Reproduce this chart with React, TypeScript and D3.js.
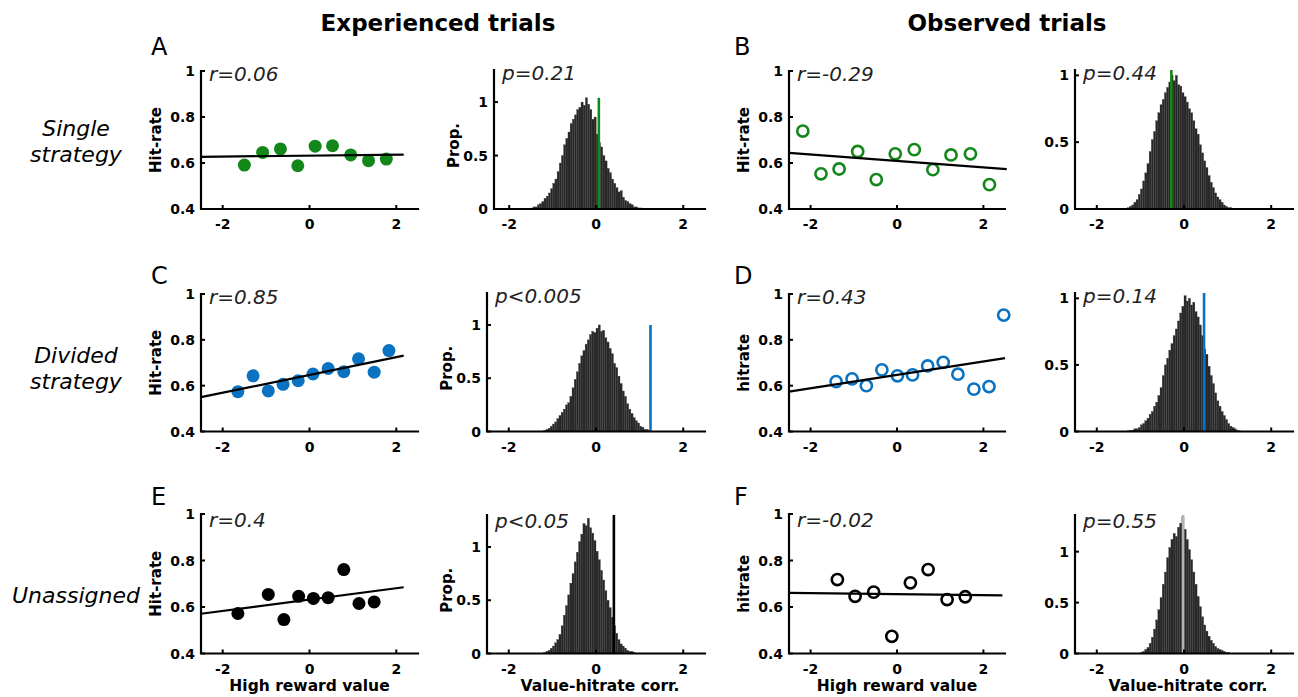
import React from 'react';
import * as d3 from 'd3';

const FONT = 'DejaVu Sans, Verdana, sans-serif';
const GREEN = '#14871b';
const BLUE = '#0a72c0';

const valueTicks = [-2, 0, 2];
const hitTicks = [0.4, 0.6, 0.8, 1];
const propTicks = [0, 0.5, 1];

// scatter panels: high reward value vs hit-rate
const aX = [-1.50, -1.08, -0.67, -0.27, 0.13, 0.53, 0.95, 1.36, 1.77];
const aY = [0.591, 0.646, 0.661, 0.588, 0.673, 0.675, 0.635, 0.610, 0.617];
const bX = [-2.18, -1.76, -1.34, -0.91, -0.48, -0.04, 0.40, 0.83, 1.25, 1.70, 2.14];
const bY = [0.739, 0.553, 0.574, 0.650, 0.528, 0.640, 0.658, 0.571, 0.635, 0.640, 0.506];
const cX = [-1.65, -1.30, -0.95, -0.61, -0.26, 0.08, 0.43, 0.79, 1.13, 1.49, 1.83];
const cY = [0.574, 0.643, 0.577, 0.606, 0.622, 0.651, 0.675, 0.661, 0.717, 0.659, 0.753];
const dX = [-1.41, -1.04, -0.71, -0.35, 0.01, 0.36, 0.71, 1.07, 1.41, 1.78, 2.13, 2.47];
const dY = [0.618, 0.630, 0.600, 0.669, 0.643, 0.647, 0.686, 0.702, 0.650, 0.585, 0.596, 0.908];
const eX = [-1.65, -0.95, -0.59, -0.25, 0.09, 0.43, 0.79, 1.14, 1.49];
const eY = [0.572, 0.654, 0.546, 0.646, 0.637, 0.640, 0.761, 0.615, 0.622];
const fX = [-1.38, -0.97, -0.54, -0.12, 0.31, 0.72, 1.16, 1.58];
const fY = [0.718, 0.646, 0.664, 0.474, 0.704, 0.761, 0.632, 0.644];

// least-squares fits: [intercept, slope, x from, x to]
const fitA = [0.632, 0.002, -2.5, 2.17];
const fitB = [0.609, -0.0139, -2.5, 2.54];
const fitC = [0.647, 0.0388, -2.5, 2.17];
const fitD = [0.647, 0.0292, -2.5, 2.5];
const fitE = [0.632, 0.0244, -2.5, 2.17];
const fitF = [0.655, -0.0022, -2.5, 2.44];

// shuffled correlation histograms (bin width 0.05)
const binWidth = 0.05;
const histAStart = -1.5;
const histA = [0.01, 0.02, 0.02, 0.04, 0.05, 0.07, 0.10, 0.12, 0.15, 0.19, 0.24, 0.28, 0.35, 0.43, 0.50, 0.60, 0.66, 0.72, 0.80, 0.84, 0.88, 0.93, 0.95, 1.00, 0.97, 1.04, 0.98, 0.93, 0.84, 0.86, 0.70, 0.62, 0.58, 0.50, 0.45, 0.38, 0.34, 0.28, 0.24, 0.20, 0.16, 0.17, 0.11, 0.08, 0.07, 0.05, 0.04, 0.02, 0.02, 0.01, 0.01];
const histBStart = -1.3;
const histB = [0.01, 0.02, 0.03, 0.05, 0.07, 0.11, 0.15, 0.21, 0.27, 0.34, 0.43, 0.52, 0.58, 0.66, 0.72, 0.78, 0.82, 0.87, 0.91, 0.95, 1.00, 0.96, 1.00, 0.93, 0.92, 0.87, 0.84, 0.80, 0.75, 0.72, 0.66, 0.60, 0.56, 0.48, 0.42, 0.36, 0.31, 0.25, 0.20, 0.16, 0.12, 0.09, 0.07, 0.05, 0.03, 0.02, 0.01, 0.01, 0.005, 0.005];
const histCStart = -1.2;
const histC = [0.01, 0.02, 0.03, 0.05, 0.07, 0.09, 0.12, 0.15, 0.18, 0.21, 0.25, 0.27, 0.33, 0.41, 0.49, 0.56, 0.64, 0.71, 0.76, 0.82, 0.86, 0.91, 0.94, 0.93, 0.97, 1.00, 0.94, 0.95, 0.88, 0.84, 0.78, 0.73, 0.64, 0.60, 0.52, 0.45, 0.38, 0.33, 0.26, 0.21, 0.17, 0.13, 0.10, 0.08, 0.05, 0.04, 0.02, 0.02, 0.01];
const histDStart = -1.3;
const histD = [0.005, 0.01, 0.01, 0.02, 0.02, 0.03, 0.05, 0.06, 0.08, 0.10, 0.13, 0.15, 0.19, 0.22, 0.27, 0.33, 0.42, 0.50, 0.55, 0.61, 0.66, 0.72, 0.77, 0.83, 0.89, 0.94, 1.02, 0.98, 1.00, 0.95, 0.97, 0.90, 0.86, 0.80, 0.72, 0.62, 0.58, 0.49, 0.42, 0.36, 0.29, 0.23, 0.19, 0.15, 0.12, 0.09, 0.06, 0.04, 0.03, 0.02, 0.01, 0.005];
const histEStart = -1.2;
const histE = [0.01, 0.02, 0.03, 0.05, 0.07, 0.10, 0.13, 0.18, 0.26, 0.36, 0.45, 0.55, 0.66, 0.75, 0.86, 0.95, 1.05, 1.12, 1.22, 1.20, 1.27, 1.18, 1.13, 1.06, 0.96, 0.88, 0.78, 0.69, 0.59, 0.50, 0.43, 0.34, 0.26, 0.19, 0.13, 0.09, 0.07, 0.05, 0.03, 0.02, 0.02, 0.01];
const histFStart = -1.0;
const histF = [0.01, 0.02, 0.04, 0.06, 0.10, 0.16, 0.24, 0.33, 0.43, 0.55, 0.68, 0.80, 0.94, 1.04, 1.12, 1.18, 1.15, 1.24, 1.28, 1.34, 1.22, 1.12, 1.02, 0.92, 0.80, 0.68, 0.56, 0.46, 0.36, 0.28, 0.22, 0.17, 0.13, 0.10, 0.07, 0.05, 0.04, 0.03, 0.02, 0.01, 0.01];

// observed (z-transformed) correlations and text
const observed = [0.06, -0.29, 1.25, 0.46, 0.41, -0.02];
const rLabels = ['r=0.06', 'r=-0.29', 'r=0.85', 'r=0.43', 'r=0.4', 'r=-0.02'];
const pLabels = ['p=0.21', 'p=0.44', 'p<0.005', 'p=0.14', 'p<0.05', 'p=0.55'];

function Axes({ left, right, top, bottom, x, y, yTicks, yFmt }: any) {
  return (
    <g>
      {valueTicks.map(t => (
        <g key={'x' + t}>
          <line x1={x(t)} x2={x(t)} y1={bottom} y2={bottom - 4} stroke="#000" strokeWidth={2} />
          <text x={x(t)} y={bottom + 20} textAnchor="middle" fontSize={14} fontWeight="bold" fontFamily={FONT}>{t}</text>
        </g>
      ))}
      {yTicks.map((t: number) => (
        <g key={'y' + t}>
          <line x1={left} x2={left + 4} y1={y(t)} y2={y(t)} stroke="#000" strokeWidth={2} />
          <text x={left - 6} y={y(t)} dy="0.36em" textAnchor="end" fontSize={14} fontWeight="bold" fontFamily={FONT}>{yFmt(t)}</text>
        </g>
      ))}
      <path d={`M${left},${top}V${bottom}H${right}`} fill="none" stroke="#000" strokeWidth={2.2} strokeLinecap="square" />
    </g>
  );
}

function Scatter(props: any) {
  const { left, right, top, bottom, xs, ys, fit, color, open, ylabel, xlabel, ann, annDy } = props;
  const x = d3.scaleLinear().domain([-2.5, 2.5]).range([left, right]);
  const y = d3.scaleLinear().domain([0.4, 1]).range([bottom, top]);
  const fitLine = d3.line<number>().x(v => x(v)).y(v => y(fit[0] + fit[1] * v))([fit[2], fit[3]]);
  return (
    <g>
      {xs.map((v: number, i: number) => (
        <circle key={i} cx={x(v)} cy={y(ys[i])} r={open ? 5.6 : 6.5}
          fill={open ? 'none' : color} stroke={color} strokeWidth={open ? 2.6 : 0} />
      ))}
      <path d={fitLine || ''} stroke="#000" strokeWidth={2.2} fill="none" />
      <Axes left={left} right={right} top={top} bottom={bottom} x={x} y={y} yTicks={hitTicks}
        yFmt={(t: number) => (t === 1 ? '1' : t.toFixed(1))} />
      <text x={left + 8} y={top + annDy} fontSize={20} fontStyle="italic" fontFamily={FONT} fill="#222">{ann}</text>
      <text transform={`translate(${left - 45},${(top + bottom) / 2}) rotate(-90)`} dy="0.36em" textAnchor="middle"
        fontSize={15} fontWeight="bold" fontFamily={FONT}>{ylabel}</text>
      {xlabel && <text x={(left + right) / 2} y={bottom + 37} textAnchor="middle" fontSize={15.5} fontWeight="bold" fontFamily={FONT}>{xlabel}</text>}
    </g>
  );
}

function Hist(props: any) {
  const { left, right, top, bottom, xmin, ymax, start, heights, obs, obsTop, obsColor, ylabel, xlabel, ann, annDy } = props;
  const x = d3.scaleLinear().domain([xmin, 2.5]).range([left, right]);
  const y = d3.scaleLinear().domain([0, ymax]).range([bottom, top]);
  return (
    <g>
      {heights.map((h: number, i: number) => {
        const x0 = x(start + i * binWidth);
        const x1 = x(start + (i + 1) * binWidth);
        return <rect key={i} x={x0} width={x1 - x0} y={y(h)} height={bottom - y(h)} fill="#282828" stroke="#3c3c3c" strokeWidth={0.3} />;
      })}
      <line x1={x(obs)} x2={x(obs)} y1={bottom} y2={y(obsTop)} stroke={obsColor} strokeWidth={2.6} />
      <Axes left={left} right={right} top={top} bottom={bottom} x={x} y={y} yTicks={propTicks}
        yFmt={(t: number) => String(t)} />
      <text x={left + 8} y={top + annDy} fontSize={20} fontStyle="italic" fontFamily={FONT} fill="#222">{ann}</text>
      {ylabel && <text transform={`translate(${left - 40},${(top + bottom) / 2 + 6}) rotate(-90)`} dy="0.36em" textAnchor="middle"
        fontSize={15} fontWeight="bold" fontFamily={FONT}>{ylabel}</text>}
      {xlabel && <text x={(left + right) / 2 + 4} y={bottom + 37} textAnchor="middle" fontSize={15.5} fontWeight="bold" fontFamily={FONT}>{xlabel}</text>}
    </g>
  );
}

export default function App() {
  const rows = [
    { sTop: 71, hTop: 70, bottom: 209, annDy: 10 },
    { sTop: 294, hTop: 293, bottom: 431.5, annDy: 10 },
    { sTop: 514, hTop: 515, bottom: 653.5, annDy: 13 },
  ];
  const c1 = [201, 418], c2 = [487, 705], c3 = [789, 1005], c4 = [1075, 1293];
  const letter = (t: string, x: number, y: number) => (
    <text x={x} y={y} fontSize={24} fontFamily={FONT}>{t}</text>
  );
  const rowLabel = (lines: string[], ys: number[]) => lines.map((l, i) => (
    <text key={l} x={76} y={ys[i]} textAnchor="middle" fontSize={22} fontStyle="italic" fontFamily={FONT}>{l}</text>
  ));
  const sc = [
    [aX, aY, fitA, GREEN, false, 'Hit-rate'], [bX, bY, fitB, GREEN, true, 'Hit-rate'],
    [cX, cY, fitC, BLUE, false, 'Hit-rate'], [dX, dY, fitD, BLUE, true, 'hitrate'],
    [eX, eY, fitE, '#000', false, 'Hit-rate'], [fX, fY, fitF, '#000', true, 'hitrate'],
  ];
  const hs = [
    [histAStart, histA, -2.35, 1.3, 1.04, GREEN], [histBStart, histB, -2.5, 1.04, 1.04, GREEN],
    [histCStart, histC, -2.5, 1.3, 1.0, BLUE], [histDStart, histD, -2.5, 1.04, 1.04, BLUE],
    [histEStart, histE, -2.5, 1.3, 1.3, '#000'], [histFStart, histF, -2.5, 1.36, 1.36, '#b3b3b3'],
  ];
  return (
    <svg width={1298} height={697} style={{ position: 'absolute', left: 0, top: 0, background: '#fff' }}>
      <text x={438} y={31} textAnchor="middle" fontSize={23} fontWeight="bold" fontFamily={FONT}>Experienced trials</text>
      <text x={1007} y={31} textAnchor="middle" fontSize={23} fontWeight="bold" fontFamily={FONT}>Observed trials</text>
      {letter('A', 151, 55)}{letter('B', 734, 55)}
      {letter('C', 151, 284)}{letter('D', 734, 284)}
      {letter('E', 151, 505)}{letter('F', 734, 505)}
      {rowLabel(['Single', 'strategy'], [136, 162])}
      {rowLabel(['Divided', 'strategy'], [363, 389])}
      {rowLabel(['Unassigned'], [603])}
      {sc.map((s: any, i) => {
        const row = rows[Math.floor(i / 2)];
        const col = i % 2 === 0 ? c1 : c3;
        return <Scatter key={'s' + i} left={col[0]} right={col[1]} top={row.sTop} bottom={row.bottom}
          xs={s[0]} ys={s[1]} fit={s[2]} color={s[3]} open={s[4]} ylabel={s[5]}
          xlabel={i >= 4 ? 'High reward value' : null} ann={rLabels[i]} annDy={row.annDy} />;
      })}
      {hs.map((h: any, i) => {
        const row = rows[Math.floor(i / 2)];
        const col = i % 2 === 0 ? c2 : c4;
        return <Hist key={'h' + i} left={i === 0 ? 494 : col[0]} right={col[1]} top={row.hTop} bottom={row.bottom}
          start={h[0]} heights={h[1]} xmin={h[2]} ymax={h[3]} obs={observed[i]} obsTop={h[4]} obsColor={h[5]}
          ylabel={i % 2 === 0 ? 'Prop.' : null} xlabel={i >= 4 ? 'Value-hitrate corr.' : null}
          ann={pLabels[i]} annDy={row.annDy} />;
      })}
    </svg>
  );
}
